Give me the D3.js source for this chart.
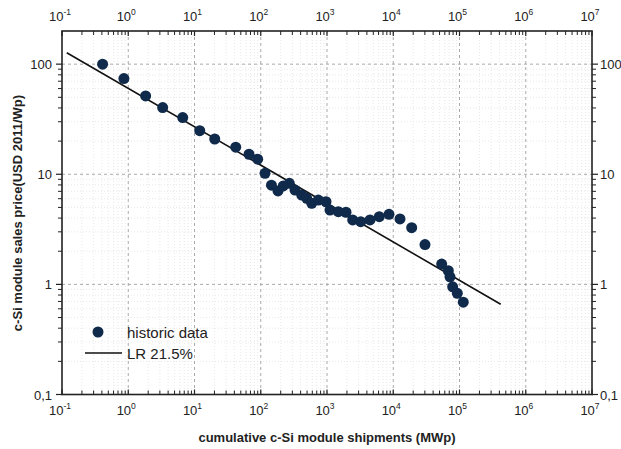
<!DOCTYPE html>
<html><head><meta charset="utf-8">
<script src="https://cdn.jsdelivr.net/npm/d3@7"></script>
<style>body{margin:0;background:#fff}svg{display:block;font-family:"Liberation Sans",Arial,sans-serif}</style>
</head><body><svg id="c" width="621" height="449"></svg>
<script>
const shipX = [0.41,0.86,1.83,3.31,6.64,12.0,20.2,41.9,66.5,89.9,116,145,182,219,270,329,415,494,588,739,966,1110,1482,1936,2443,3228,4457,6155,8630,12650,18980,30150,53830,67760,71890,78890,92680,114000];
const priceY = [100,74,51.5,40.3,32.7,24.9,20.9,17.6,15.2,13.7,10.2,7.96,7.05,7.83,8.28,7.19,6.48,6.05,5.45,5.83,5.63,4.73,4.57,4.52,3.85,3.71,3.85,4.12,4.33,3.93,3.27,2.30,1.53,1.33,1.17,0.95,0.83,0.69];
const lrX = [0.118, 419000];
const lrY = [127, 0.66];
const xDecades = [-1,0,1,2,3,4,5,6,7];
const yTickLabels = ["0,1","1","10","100"];
const yTickValues = [0.1,1,10,100];
const legendLabels = ["historic data","LR 21.5%"];
const xTitle = "cumulative c-Si module shipments (MWp)";
const yTitle = "c-Si module sales price(USD 2011/Wp)";

const L=62,R=592,T=31,B=394.5;
const svg=d3.select("#c");
const x=d3.scaleLog().domain([0.1,1e7]).range([L,R]);
const y=d3.scaleLog().domain([0.1,200]).range([B,T]);
const dotColor="#0f2a4a";

const xMinor=[];for(let d=-1;d<7;d++)for(let k=2;k<=9;k++)xMinor.push(k*Math.pow(10,d));
const yMinor=[];for(let d=-1;d<3;d++)for(let k=2;k<=9;k++){const v=k*Math.pow(10,d);if(v<200)yMinor.push(v);}
const xMajor=xDecades.map(d=>Math.pow(10,d));

const g=svg.append("g");
g.selectAll(".xmg").data(xMinor).join("line").attr("x1",d=>x(d)).attr("x2",d=>x(d)).attr("y1",T).attr("y2",B)
 .attr("stroke","#e2e2e2").attr("stroke-width",0.8).attr("stroke-dasharray","1,2");
g.selectAll(".ymg").data(yMinor).join("line").attr("y1",d=>y(d)).attr("y2",d=>y(d)).attr("x1",L).attr("x2",R)
 .attr("stroke","#e2e2e2").attr("stroke-width",0.8).attr("stroke-dasharray","1,2");
g.selectAll(".xMg").data(xMajor.slice(1,-1)).join("line").attr("x1",d=>x(d)).attr("x2",d=>x(d)).attr("y1",T).attr("y2",B)
 .attr("stroke","#a0a0a0").attr("stroke-width",0.9).attr("stroke-dasharray","3,3");
g.selectAll(".yMg").data(yTickValues.slice(1)).join("line").attr("y1",d=>y(d)).attr("y2",d=>y(d)).attr("x1",L).attr("x2",R)
 .attr("stroke","#a0a0a0").attr("stroke-width",0.9).attr("stroke-dasharray","3,3");

svg.append("line").attr("x1",x(lrX[0])).attr("y1",y(lrY[0])).attr("x2",x(lrX[1])).attr("y2",y(lrY[1]))
 .attr("stroke","#111").attr("stroke-width",1.6);

svg.selectAll(".pt").data(shipX.map((v,i)=>[v,priceY[i]])).join("circle")
 .attr("cx",d=>x(d[0])).attr("cy",d=>y(d[1])).attr("r",5.5).attr("fill",dotColor);

const ax=svg.append("g").attr("stroke","#222");
ax.append("rect").attr("x",L).attr("y",T).attr("width",R-L).attr("height",B-T).attr("fill","none").attr("stroke-width",1.6);
xMinor.forEach(v=>{
  ax.append("line").attr("x1",x(v)).attr("x2",x(v)).attr("y1",B).attr("y2",B-4).attr("stroke-width",1);
  ax.append("line").attr("x1",x(v)).attr("x2",x(v)).attr("y1",T).attr("y2",T+4).attr("stroke-width",1);
});
xMajor.forEach(v=>{
  ax.append("line").attr("x1",x(v)).attr("x2",x(v)).attr("y1",B).attr("y2",B-5).attr("stroke-width",1.2);
  ax.append("line").attr("x1",x(v)).attr("x2",x(v)).attr("y1",T).attr("y2",T+5).attr("stroke-width",1.2);
});
yMinor.forEach(v=>{
  ax.append("line").attr("y1",y(v)).attr("y2",y(v)).attr("x1",L).attr("x2",L-4).attr("stroke-width",1);
  ax.append("line").attr("y1",y(v)).attr("y2",y(v)).attr("x1",R).attr("x2",R+4).attr("stroke-width",1);
});
yTickValues.forEach(v=>{
  ax.append("line").attr("y1",y(v)).attr("y2",y(v)).attr("x1",L).attr("x2",L-6).attr("stroke-width",1.2);
  ax.append("line").attr("y1",y(v)).attr("y2",y(v)).attr("x1",R).attr("x2",R+6).attr("stroke-width",1.2);
});

function xLabel(yPos){
  xDecades.forEach(d=>{
    const t=svg.append("text").attr("x",x(Math.pow(10,d))-2).attr("y",yPos).attr("text-anchor","middle")
      .attr("font-size",13).attr("fill","#222");
    t.append("tspan").text("10");
    t.append("tspan").attr("dy",-6).attr("font-size",8.5).text(String(d));
  });
}
xLabel(21); xLabel(415);
yTickValues.forEach((v,i)=>{
  svg.append("text").attr("x",L-10).attr("y",y(v)+5).attr("text-anchor","end").attr("font-size",13).attr("fill","#222").text(yTickLabels[i]);
  svg.append("text").attr("x",R+8).attr("y",y(v)+5).attr("text-anchor","start").attr("font-size",13).attr("fill","#222").text(yTickLabels[i]);
});
svg.append("text").attr("x",327).attr("y",442).attr("text-anchor","middle").attr("font-size",13).attr("font-weight","bold").attr("fill","#222").text(xTitle);
svg.append("text").attr("transform","translate(22,213) rotate(-90)").attr("text-anchor","middle").attr("font-size",13).attr("font-weight","bold").attr("fill","#222").text(yTitle);

svg.append("circle").attr("cx",98).attr("cy",332).attr("r",5.5).attr("fill",dotColor);
svg.append("line").attr("x1",85).attr("x2",122).attr("y1",353).attr("y2",353).attr("stroke","#111").attr("stroke-width",1.6);
svg.append("text").attr("x",127).attr("y",337.5).attr("font-size",15).attr("fill","#222").text(legendLabels[0]);
svg.append("text").attr("x",127).attr("y",358.5).attr("font-size",15).attr("fill","#222").text(legendLabels[1]);
</script></body></html>
